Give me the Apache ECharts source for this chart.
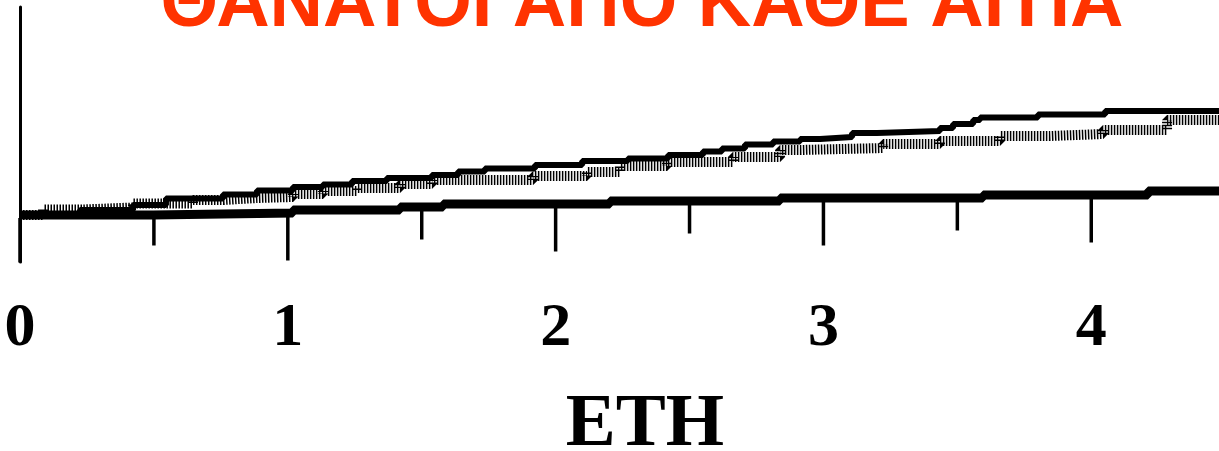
<!DOCTYPE html>
<html>
<head>
<meta charset="utf-8">
<script src="https://cdn.jsdelivr.net/npm/echarts@6/dist/echarts.min.js"></script>
<style>
html,body{margin:0;padding:0;background:#fff;}
#chart{width:1219px;height:451px;}
</style>
</head>
<body>
<div id="chart"></div>
<script>
// ---- data (years, cumulative value) ----
const titleText = 'ΘΑΝΑΤΟΙ ΑΠΟ ΚΑΘΕ ΑΙΤΙΑ';
const axisTitle = 'ETH';
const tickLabels = ['0', '1', '2', '3', '4'];
const tickValues = [0, 0.5, 1, 1.5, 2, 2.5, 3, 3.5, 4];
const xMax = 4.477;

const solidCurve = [
  [0, 0], [0.224, 0.5], [0.422, 1.0], [0.545, 1.65], [0.758, 2.05], [0.885, 2.45],
  [1.019, 2.8], [1.131, 3.05], [1.240, 3.4], [1.370, 3.7], [1.538, 4.0], [1.636, 4.35],
  [1.736, 4.65], [1.923, 5.0], [2.099, 5.4], [2.270, 5.65], [2.420, 6.0], [2.550, 6.35],
  [2.621, 6.65], [2.707, 7.05], [2.812, 7.35], [2.913, 7.6], [2.987, 7.8], [3.107, 8.2],
  [3.200, 8.4], [3.435, 8.7], [3.484, 9.1], [3.559, 9.5], [3.585, 9.75], [3.801, 10.05],
  [4.052, 10.4], [4.477, 10.4]
];
const dottedCurve = [
  [0, 0], [0.086, 0.55], [0.235, 0.75], [0.422, 1.15], [0.646, 1.5], [0.758, 1.7],
  [0.885, 1.8], [1.019, 2.1], [1.131, 2.4], [1.258, 2.7], [1.419, 3.1], [1.538, 3.5],
  [1.916, 3.9], [2.117, 4.3], [2.240, 4.9], [2.416, 5.3], [2.662, 5.8], [2.838, 6.5],
  [2.913, 6.7], [3.223, 7.1], [3.435, 7.4], [3.659, 7.9], [3.846, 8.1], [4.044, 8.5],
  [4.283, 9.5], [4.477, 9.5]
];
const bottomCurve = [
  [0, 0], [0.497, 0.2], [1.019, 0.5], [1.419, 0.8], [1.580, 1.1], [2.203, 1.4],
  [2.838, 1.7], [3.596, 2.0], [4.212, 2.4], [4.477, 2.4]
];

function stepValueAt(curve, x) {
  let v = curve[0][1];
  for (const p of curve) { if (p[0] <= x + 1e-9) v = p[1]; }
  return v;
}

const chart = echarts.init(document.getElementById('chart'), null, {renderer: 'canvas'});
chart.setOption({
  animation: false,
  backgroundColor: '#fff',
  title: [
    {
      text: titleText, left: 642, top: -31, textAlign: 'center', padding: 0,
      textStyle: {color: '#ff3300', fontFamily: 'Liberation Sans', fontWeight: 'bold', fontSize: 74, lineHeight: 74}
    },
    {
      text: axisTitle, left: 645, top: 388, textAlign: 'center', padding: 0,
      textStyle: {color: '#000', fontFamily: 'Liberation Serif', fontWeight: 'bold', fontSize: 75, lineHeight: 75}
    }
  ],
  grid: {left: 20, right: 0, top: 7, bottom: 189, containLabel: false},
  xAxis: {
    type: 'value', min: 0, max: xMax, interval: 1,
    axisLine: {show: false, onZero: false},
    axisTick: {show: false},
    splitLine: {show: false},
    axisLabel: {
      showMaxLabel: false,
      margin: 36,
      color: '#000', fontFamily: 'Liberation Serif', fontWeight: 'bold', fontSize: 62, lineHeight: 62,
      formatter: function (v) { return Number.isInteger(v) && tickLabels[v] !== undefined ? tickLabels[v] : ''; }
    }
  },
  yAxis: {
    type: 'value', min: -4.7, max: 20.8,
    axisLine: {show: true, lineStyle: {color: '#000', width: 3}},
    axisTick: {show: false},
    axisLabel: {show: false},
    splitLine: {show: false}
  },
  series: [
    {
      type: 'line', data: bottomCurve, step: 'end', symbol: 'none',
      lineStyle: {color: '#000', width: 9, cap: 'butt'}, z: 3
    },
    {
      type: 'line', data: dottedCurve, step: 'end', symbol: 'none',
      lineStyle: {color: '#000', width: 10, type: [1.5, 1.5], cap: 'butt'}, z: 4
    },
    {
      type: 'line', data: solidCurve, step: 'end', symbol: 'none',
      lineStyle: {color: '#000', width: 6, cap: 'butt'}, z: 5
    },
    {
      type: 'custom', clip: false, z: 6,
      data: tickValues.map(function (v) { return [v, 0]; }),
      renderItem: function (params, api) {
        const x = api.value(0);
        const yb = stepValueAt(bottomCurve, x);
        const p = api.coord([x, yb]);
        const major = Math.abs(x - Math.round(x)) < 1e-9;
        const len = major ? 43 : 28;
        return {
          type: 'line',
          shape: {x1: p[0], y1: p[1] + 3, x2: p[0], y2: p[1] + 4.5 + len},
          style: {stroke: '#000', lineWidth: 3.5}
        };
      }
    }
  ]
});
</script>
</body>
</html>
